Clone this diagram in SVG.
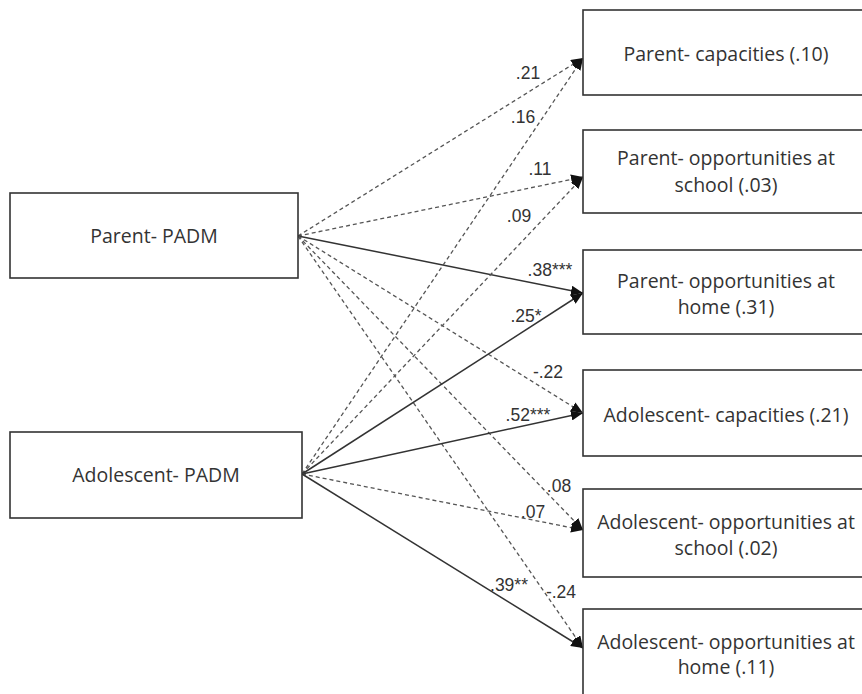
<svg xmlns="http://www.w3.org/2000/svg" width="862" height="694" viewBox="0 0 862 694">
<defs>
<style>
.box{fill:#fff;stroke:#333;stroke-width:1.6}
.nt{font-family:"Open Sans","Liberation Sans",sans-serif;font-size:19.5px;fill:#333;text-anchor:middle}
.lb{font-family:"Liberation Sans",Arial,sans-serif;font-size:17.5px;fill:#333;text-anchor:middle}
.d{fill:none;stroke:#555;stroke-width:1.3;stroke-dasharray:4 3}
.s{fill:none;stroke:#333;stroke-width:1.5}
</style>
<marker id="ah" viewBox="0 0 12 10" refX="12" refY="5" markerWidth="12" markerHeight="10" markerUnits="userSpaceOnUse" orient="auto">
<path d="M0,0 L12,5 L0,10 z" fill="#111"/>
</marker>
</defs>
<rect width="862" height="694" fill="#fff"/>
<g id="connectors">
<line class="d" x1="298" y1="236" x2="583" y2="58" marker-end="url(#ah)"/>
<line class="d" x1="298" y1="236" x2="583" y2="177" marker-end="url(#ah)"/>
<line class="s" x1="298" y1="236" x2="583" y2="293" marker-end="url(#ah)"/>
<line class="d" x1="298" y1="236" x2="583" y2="413" marker-end="url(#ah)"/>
<line class="d" x1="298" y1="236" x2="583" y2="530" marker-end="url(#ah)"/>
<line class="d" x1="298" y1="236" x2="583" y2="648" marker-end="url(#ah)"/>
<line class="d" x1="302" y1="474" x2="583" y2="58" marker-end="url(#ah)"/>
<line class="d" x1="302" y1="474" x2="583" y2="177" marker-end="url(#ah)"/>
<line class="s" x1="302" y1="474" x2="583" y2="293" marker-end="url(#ah)"/>
<line class="s" x1="302" y1="474" x2="583" y2="413" marker-end="url(#ah)"/>
<line class="d" x1="302" y1="474" x2="583" y2="530" marker-end="url(#ah)"/>
<line class="s" x1="302" y1="474" x2="583" y2="648" marker-end="url(#ah)"/>
<text class="lb" x="528" y="79">.21</text>
<text class="lb" x="523" y="123">.16</text>
<text class="lb" x="540" y="175">.11</text>
<text class="lb" x="519" y="222">.09</text>
<text class="lb" x="550" y="276">.38***</text>
<text class="lb" x="526" y="322">.25*</text>
<text class="lb" x="548" y="378">-.22</text>
<text class="lb" x="528" y="421">.52***</text>
<text class="lb" x="559" y="492">.08</text>
<text class="lb" x="533" y="518">.07</text>
<text class="lb" x="509" y="591">.39**</text>
<text class="lb" x="561" y="598">-.24</text>
</g>
<g id="parent-padm">
<rect class="box" x="10" y="193" width="288" height="85"/>
<text class="nt" x="154" y="243">Parent- PADM</text>
</g>
<g id="adolescent-padm">
<rect class="box" x="10" y="432" width="292" height="86"/>
<text class="nt" x="156" y="482">Adolescent- PADM</text>
</g>
<g id="parent-capacities">
<rect class="box" x="583" y="10" width="290" height="85"/>
<text class="nt" x="726" y="61">Parent- capacities (.10)</text>
</g>
<g id="parent-school">
<rect class="box" x="583" y="130" width="290" height="83"/>
<text class="nt" x="726" y="165">Parent- opportunities at</text>
<text class="nt" x="726" y="192">school (.03)</text>
</g>
<g id="parent-home">
<rect class="box" x="583" y="250" width="290" height="84"/>
<text class="nt" x="726" y="288">Parent- opportunities at</text>
<text class="nt" x="726" y="314">home (.31)</text>
</g>
<g id="adolescent-capacities">
<rect class="box" x="583" y="370" width="290" height="86"/>
<text class="nt" x="726" y="422">Adolescent- capacities (.21)</text>
</g>
<g id="adolescent-school">
<rect class="box" x="583" y="489" width="290" height="88"/>
<text class="nt" x="726" y="529">Adolescent- opportunities at</text>
<text class="nt" x="726" y="555">school (.02)</text>
</g>
<g id="adolescent-home">
<rect class="box" x="583" y="609" width="290" height="90"/>
<text class="nt" x="726" y="649">Adolescent- opportunities at</text>
<text class="nt" x="726" y="674">home (.11)</text>
</g>
</svg>
